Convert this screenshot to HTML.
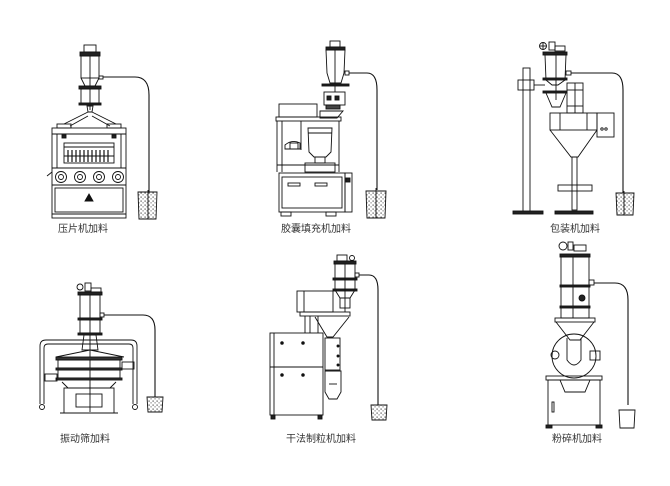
<!DOCTYPE html>
<html><head><meta charset="utf-8"><style>
html,body{margin:0;padding:0;background:#fff;}
svg{display:block;}
text{font-family:"Liberation Sans","Noto Sans CJK SC",sans-serif;font-size:10px;fill:#333;stroke:none;text-anchor:middle;}
</style></head><body>
<svg width="670" height="486" viewBox="0 0 670 486" xmlns="http://www.w3.org/2000/svg">
<defs>
<pattern id="dots" width="4" height="4" patternUnits="userSpaceOnUse">
<rect x="0.5" y="0.5" width="1.2" height="1.2" fill="#444"/><rect x="2.5" y="2.3" width="1.1" height="1.1" fill="#666"/>
</pattern>
</defs>
<g fill="none" stroke="#111" stroke-width="0.9">

<!-- ===== Panel 1 ===== -->
<rect x="84" y="45" width="12" height="7"/>
<rect x="80" y="52" width="20" height="4" fill="#222"/>
<rect x="81" y="56" width="18" height="22"/>
<line x1="90" y1="56" x2="90" y2="110"/>
<path d="M81 78 L85 86 L95 86 L99 78"/>
<rect x="79" y="86" width="22" height="3" fill="#222"/>
<rect x="81" y="89" width="18" height="15"/>
<rect x="79" y="103" width="22" height="2" fill="#222"/>
<rect x="99" y="76" width="4" height="3"/>
<path d="M103 77 L135 77 Q149 77 149 95 L149 193" stroke-width="1.1"/>
<path d="M87 106 L93 106 L92 112 L88 112 Z"/>
<path d="M88 112 L64 124 M92 112 L116 124 M88 116 L70 126 M92 116 L110 126"/>
<rect x="57" y="124" width="14" height="4"/><rect x="107" y="124" width="14" height="4"/>
<rect x="52" y="128" width="74" height="90"/>
<line x1="52" y1="134" x2="126" y2="134"/>
<rect x="62" y="135" width="4" height="3" fill="#222"/><rect x="112" y="135" width="4" height="3" fill="#222"/>
<line x1="57" y1="134" x2="57" y2="168"/><line x1="121" y1="134" x2="121" y2="168"/>
<rect x="64" y="143" width="50" height="20"/>
<line x1="64" y1="147" x2="114" y2="147"/>
<g stroke-width="1.2">
<line x1="68" y1="150" x2="68" y2="162"/><line x1="72" y1="150" x2="72" y2="162"/><line x1="76" y1="150" x2="76" y2="162"/><line x1="80" y1="150" x2="80" y2="162"/><line x1="84" y1="150" x2="84" y2="162"/><line x1="88" y1="150" x2="88" y2="162"/><line x1="92" y1="150" x2="92" y2="162"/><line x1="96" y1="150" x2="96" y2="162"/><line x1="100" y1="150" x2="100" y2="162"/><line x1="104" y1="150" x2="104" y2="162"/><line x1="108" y1="150" x2="108" y2="162"/>
</g>
<line x1="64" y1="156" x2="114" y2="156"/>
<line x1="52" y1="168" x2="126" y2="168"/>
<circle cx="61" cy="177" r="5.5"/><circle cx="61" cy="177" r="2.5"/>
<circle cx="80" cy="177" r="5.5"/><circle cx="80" cy="177" r="2.5"/>
<circle cx="99" cy="177" r="5.5"/><circle cx="99" cy="177" r="2.5"/>
<circle cx="118" cy="177" r="5.5"/><circle cx="118" cy="177" r="2.5"/>
<line x1="47" y1="176" x2="52" y2="172"/>
<line x1="52" y1="185" x2="126" y2="185"/>
<rect x="55" y="188" width="68" height="24"/>
<path d="M89 194 L93 201 L85 201 Z" fill="#111"/>
<line x1="52" y1="214" x2="126" y2="214"/>
<path d="M138 192 L157 192 L156 219 L139 219 Z" fill="url(#dots)"/>
<line x1="148" y1="190" x2="148" y2="219"/>

<!-- ===== Panel 2 ===== -->
<rect x="330" y="41" width="10" height="6"/>
<rect x="326" y="47" width="19" height="3" fill="#222"/>
<path d="M326 50 L345 50 L344 73 L341 83 L330 83 L327 73 Z"/>
<line x1="335" y1="50" x2="335" y2="92"/>
<rect x="322" y="84" width="27" height="2" fill="#222"/>
<rect x="345" y="71" width="4" height="4"/>
<path d="M349 73 L367 73 Q377 73 377 90 L377 190" stroke-width="1.1"/>
<rect x="324" y="92" width="21" height="13"/>
<rect x="327" y="96" width="4" height="4" fill="#222"/><rect x="335" y="96" width="4" height="4" fill="#222"/>
<rect x="326" y="105" width="14" height="4" fill="#444"/>
<rect x="279" y="104" width="38" height="13"/>
<path d="M320 111 L343 111 L337 118 L320 118 Z"/>
<rect x="276" y="117" width="65" height="4"/>
<line x1="277" y1="121" x2="277" y2="172"/><line x1="339" y1="121" x2="339" y2="172"/>
<line x1="282" y1="121" x2="282" y2="172"/><line x1="301" y1="121" x2="301" y2="150"/>
<path d="M308 128 L332 128 L331 152 L326 157 L314 157 L309 152 Z"/>
<line x1="308" y1="133" x2="332" y2="133"/>
<rect x="315" y="157" width="10" height="6"/>
<rect x="305" y="163" width="30" height="9"/>
<path d="M285 145 Q292 139 300 143 L300 149 L285 149 Z"/>
<rect x="290" y="143" width="8" height="6"/>
<line x1="277" y1="165" x2="339" y2="165"/>
<rect x="279" y="173" width="66" height="39"/>
<rect x="282" y="177" width="60" height="31"/>
<rect x="288" y="183" width="12" height="3"/><rect x="315" y="183" width="12" height="3"/>
<rect x="345" y="173" width="7" height="39"/>
<rect x="346" y="178" width="4" height="4" fill="#222"/>
<rect x="281" y="212" width="10" height="4"/><rect x="326" y="212" width="10" height="4"/>
<path d="M366 191 L386 191 L385 218 L367 218 Z" fill="url(#dots)"/>
<line x1="376" y1="188" x2="376" y2="218"/>

<!-- ===== Panel 3 ===== -->
<circle cx="543" cy="46" r="3.5"/>
<line x1="539.5" y1="46" x2="546.5" y2="46"/><line x1="543" y1="42.5" x2="543" y2="49.5"/>
<rect x="549" y="42" width="6" height="8"/>
<rect x="555" y="46" width="10" height="5"/>
<rect x="543" y="52" width="24" height="3" fill="#222"/>
<path d="M545 55 L566 55 L565 80 L558 85 L552 85 L546 80 Z"/>
<line x1="556" y1="55" x2="556" y2="100"/>
<rect x="543" y="78" width="24" height="2" fill="#222"/>
<rect x="543" y="91" width="24" height="2" fill="#222"/>
<rect x="566" y="71" width="5" height="4"/>
<path d="M571 73 L612 73 Q623 73 623 90 L623 193" stroke-width="1.1"/>
<rect x="523" y="68" width="7" height="144"/>
<rect x="513" y="211" width="30" height="3" fill="#222"/>
<rect x="518" y="80" width="16" height="10"/>
<line x1="534" y1="85" x2="545" y2="85"/>
<path d="M546 93 L552 107 L560 107 L566 93"/>
<rect x="567" y="83" width="16" height="30"/>
<line x1="567" y1="90" x2="583" y2="90"/><line x1="567" y1="106" x2="583" y2="106"/>
<line x1="575" y1="83" x2="575" y2="113"/>
<rect x="550" y="113" width="47" height="17"/>
<line x1="560" y1="113" x2="560" y2="130"/><line x1="587" y1="113" x2="587" y2="130"/>
<rect x="597" y="113" width="17" height="24"/>
<circle cx="602" cy="129" r="1.2"/><circle cx="606" cy="129" r="1.2"/>
<path d="M550 130 L571 157 L578 157 L597 130"/>
<rect x="572" y="157" width="5" height="53"/>
<rect x="558" y="185" width="34" height="6"/>
<rect x="555" y="211" width="38" height="3" fill="#222"/>
<path d="M616 193 L634 193 L633 215 L617 215 Z" fill="url(#dots)"/>
<line x1="624" y1="191" x2="624" y2="215"/>

<!-- ===== Panel 4 ===== -->
<circle cx="80" cy="287" r="3"/>
<rect x="85" y="283" width="6" height="8"/><rect x="91" y="288" width="10" height="4"/>
<rect x="78" y="292" width="24" height="3" fill="#222"/>
<rect x="80" y="295" width="20" height="23"/>
<line x1="90" y1="295" x2="90" y2="412"/>
<rect x="78" y="318" width="24" height="2" fill="#222"/>
<path d="M80 320 L80 333 L100 333 L100 320"/>
<rect x="78" y="333" width="24" height="2" fill="#222"/>
<rect x="100" y="313" width="4" height="4"/>
<path d="M104 315 L143 315 Q155 315 155 330 L155 397" stroke-width="1.1"/>
<path d="M84 335 L96 335 L98 350 L82 350 Z"/>
<path d="M40 404 L40 346 Q40 340 46 340 L131 340 Q137 340 137 346 L137 404"/>
<path d="M44 404 L44 348 Q44 344 48 344 L129 344 Q133 344 133 348 L133 404"/>
<circle cx="42" cy="407" r="2.5"/><circle cx="135" cy="407" r="2.5"/>
<path d="M56 357 L90 350 L124 357"/>
<rect x="56" y="357" width="66" height="3" fill="#333"/>
<rect x="58" y="360" width="62" height="8"/>
<rect x="56" y="368" width="66" height="2" fill="#333"/>
<rect x="58" y="370" width="62" height="8"/>
<rect x="56" y="378" width="66" height="2" fill="#333"/>
<rect x="45" y="374" width="12" height="7"/><rect x="122" y="362" width="12" height="7"/>
<path d="M62 382 L68 388 L110 388 L116 382"/>
<rect x="64" y="388" width="50" height="25"/>
<rect x="76" y="394" width="26" height="13"/>
<line x1="60" y1="413" x2="118" y2="413"/>
<path d="M147 397 L163 397 L162 412 L148 412 Z" fill="url(#dots)"/>

<!-- ===== Panel 5 ===== -->
<rect x="337" y="255" width="10" height="6"/>
<circle cx="352" cy="258" r="2.5"/>
<rect x="334" y="261" width="22" height="3" fill="#222"/>
<path d="M335 264 L355 264 L355 290 L350 298 L340 298 L335 290 Z"/>
<rect x="333" y="278" width="24" height="2" fill="#222"/>
<rect x="333" y="289" width="24" height="2" fill="#222"/>
<line x1="345" y1="264" x2="345" y2="312"/>
<rect x="340" y="298" width="10" height="10"/>
<rect x="355" y="273" width="4" height="4"/>
<path d="M359 275 L369 275 Q378 275 378 290 L378 405" stroke-width="1.1"/>
<rect x="297" y="291" width="36" height="21"/>
<line x1="304" y1="291" x2="304" y2="312"/>
<rect x="300" y="312" width="50" height="4"/>
<path d="M305 316 L305 333 M318 316 L318 333 M310 316 L310 333"/>
<path d="M315 317 L327 337 L333 337 L349 317"/>
<rect x="270" y="333" width="53" height="82"/>
<line x1="270" y1="367" x2="323" y2="367"/>
<line x1="274" y1="333" x2="274" y2="415"/>
<circle cx="282" cy="343" r="1.3" fill="#111"/><circle cx="303" cy="343" r="1.3" fill="#111"/>
<circle cx="282" cy="375" r="1.3" fill="#111"/><circle cx="303" cy="375" r="1.3" fill="#111"/>
<rect x="325" y="338" width="15" height="32"/>
<circle cx="338" cy="346" r="1" fill="#111"/><circle cx="338" cy="356" r="1" fill="#111"/><circle cx="338" cy="365" r="1" fill="#111"/>
<path d="M325 371 L341 371 L341 392 L337 399 L329 399 L325 392 Z"/>
<line x1="329" y1="384" x2="337" y2="384"/>
<rect x="271" y="415" width="4" height="4" fill="#222"/><rect x="318" y="415" width="4" height="4" fill="#222"/>
<path d="M371 405 L387 405 L386 420 L372 420 Z" fill="url(#dots)"/>

<!-- ===== Panel 6 ===== -->
<circle cx="563" cy="246" r="4"/>
<rect x="568" y="242" width="5" height="8"/><rect x="574" y="245" width="12" height="6"/>
<rect x="560" y="254" width="30" height="3" fill="#222"/>
<rect x="561" y="257" width="28" height="61"/>
<line x1="573" y1="257" x2="573" y2="318"/>
<rect x="560" y="285" width="30" height="2" fill="#222"/>
<rect x="560" y="306" width="30" height="2" fill="#222"/>
<circle cx="582" cy="298" r="3" fill="#222"/>
<rect x="589" y="280" width="5" height="5"/>
<path d="M594 283 L615 283 Q628 283 628 300 L628 405" stroke-width="1.1"/>
<rect x="555" y="318" width="40" height="4"/>
<path d="M556 322 L570 340 L580 340 L594 322"/>
<circle cx="574" cy="356" r="22"/>
<path d="M567 338 L567 360 Q574 370 581 360 L581 338"/>
<circle cx="555" cy="355" r="4"/>
<rect x="590" y="351" width="10" height="9"/>
<rect x="546" y="376" width="56" height="4"/>
<rect x="548" y="380" width="52" height="45"/>
<path d="M560 380 L565 392 L585 392 L590 380"/>
<rect x="552" y="402" width="2" height="10"/>
<rect x="546" y="425" width="6" height="3" fill="#222"/><rect x="596" y="425" width="6" height="3" fill="#222"/>
<path d="M619 410 L635 410 L634 428 L620 428 Z"/>
</g>
<text x="83" y="232">压片机加料</text>
<text x="316" y="232">胶囊填充机加料</text>
<text x="575" y="232">包装机加料</text>
<text x="85" y="442">振动筛加料</text>
<text x="321" y="442">干法制粒机加料</text>
<text x="577" y="442">粉碎机加料</text>
</svg>
</body></html>
